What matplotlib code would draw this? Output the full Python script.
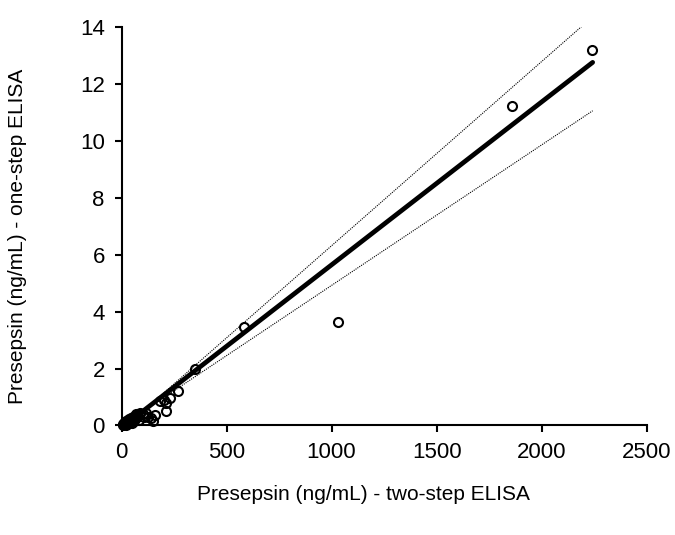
import matplotlib
matplotlib.use("Agg")
import matplotlib.pyplot as plt
import numpy as np

plt.rcParams['font.family'] = ['Liberation Sans', 'DejaVu Sans']

# Measured data: two-step ELISA (x) vs one-step ELISA (y)
two_step = [5, 8, 10, 12, 15, 18, 20, 22, 25, 28, 30, 33, 35, 38, 40, 45, 48, 50,
            55, 60, 62, 65, 70, 75, 80, 85, 90, 100, 105, 115, 125, 140, 150, 159,
            185, 200, 212, 210, 230, 271, 352, 581, 1033, 1858, 2238]
one_step = [0.05, 0.02, 0.10, 0.04, 0.08, 0.12, 0.03, 0.15, 0.10, 0.05, 0.18, 0.12,
            0.22, 0.08, 0.15, 0.25, 0.10, 0.20, 0.30, 0.15, 0.35, 0.25, 0.40, 0.30,
            0.35, 0.20, 0.45, 0.40, 0.30, 0.45, 0.30, 0.26, 0.17, 0.37, 0.85, 0.90,
            0.79, 0.52, 0.95, 1.20, 2.00, 3.46, 3.63, 11.20, 13.20]

# Regression line and confidence limits (endpoints)
line_x = [15, 2243]
fit_y = [0.006, 12.75]
upper_y = [-0.06, 14.35]
lower_y = [0.06, 11.05]

x_ticks = [0, 500, 1000, 1500, 2000, 2500]
y_ticks = [0, 2, 4, 6, 8, 10, 12, 14]

fig = plt.figure(figsize=(6.75, 5.35), dpi=100)
ax = fig.add_axes([0.180, 0.2047, 0.778, 0.7453])

ax.plot(line_x, upper_y, color='black', lw=0.8, ls=(0, (1, 1)))
ax.plot(line_x, lower_y, color='black', lw=0.8, ls=(0, (1, 1)))
ax.plot(line_x, fit_y, color='black', lw=3.4, solid_capstyle='round')
ax.plot(two_step, one_step, ls='none', marker='o', markersize=6.5,
        markerfacecolor='none', markeredgecolor='black', markeredgewidth=1.5,
        clip_on=False)

ax.set_xlim(0, 2500)
ax.set_ylim(0, 14)
ax.set_xticks(x_ticks)
ax.set_yticks(y_ticks)
ax.spines['top'].set_visible(False)
ax.spines['right'].set_visible(False)
for s in ('left', 'bottom'):
    ax.spines[s].set_linewidth(1.5)
ax.tick_params(direction='out', length=5, width=1.5, labelsize=16, pad=7)

fig.text(363 / 675, 1 - 494 / 535, 'Presepsin (ng/mL) - two-step ELISA',
         fontsize=15, ha='center', va='center')
fig.text(18 / 675, 1 - 236 / 535, 'Presepsin (ng/mL) - one-step ELISA',
         fontsize=15, ha='center', va='center', rotation=90)

fig.savefig('out.png', dpi=100)
